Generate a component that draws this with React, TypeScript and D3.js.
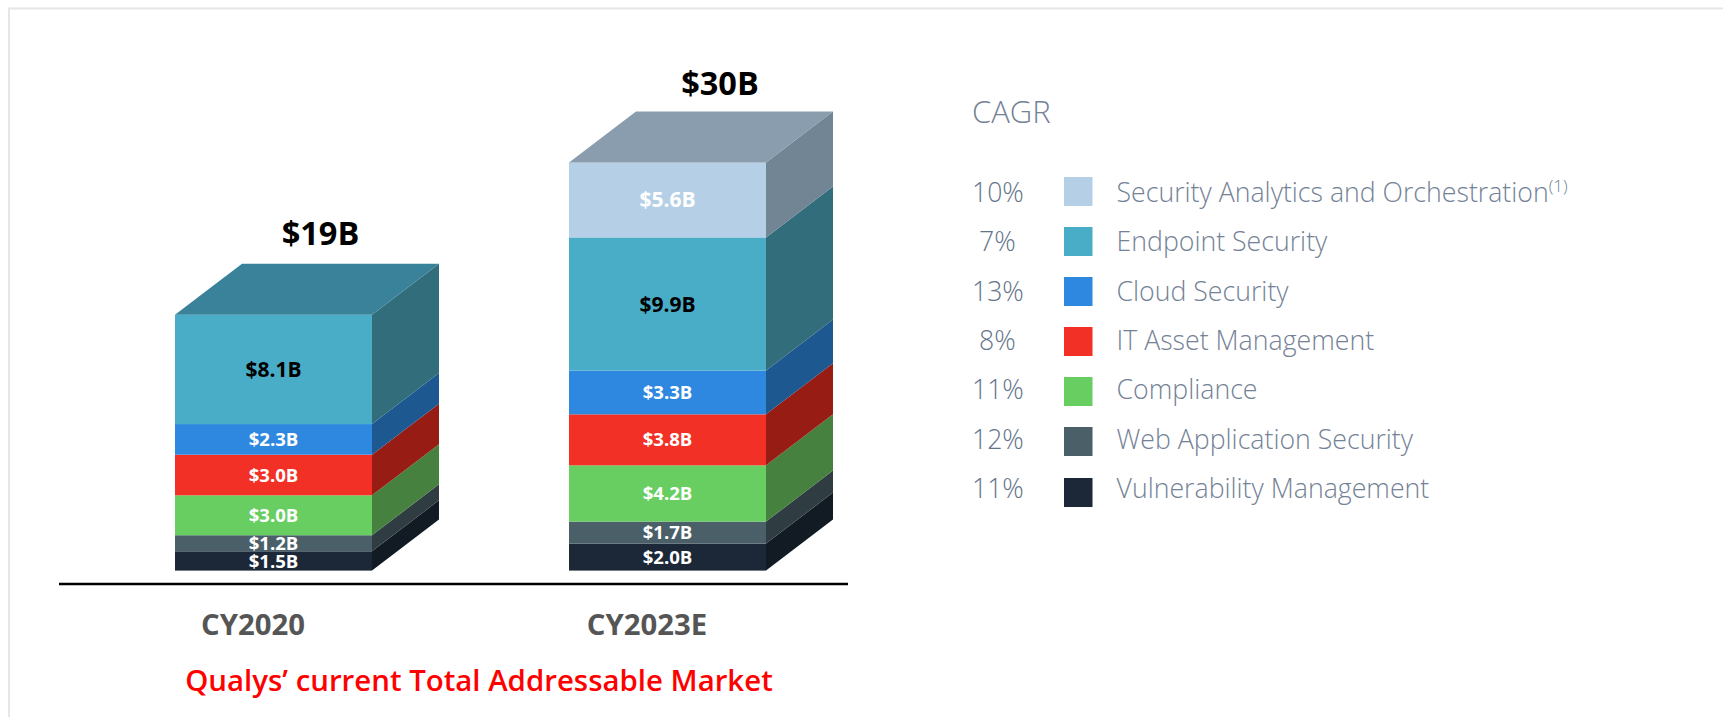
import React from "react";
import * as d3 from "d3";

const years = ["CY2020", "CY2023E"];
const keys = ["Vulnerability Management", "Web Application Security", "Compliance", "IT Asset Management", "Cloud Security", "Endpoint Security", "Security Analytics and Orchestration"];
const cagr = ["11%", "12%", "11%", "8%", "13%", "7%", "10%"];
const frontColors = ["#1c2838", "#4a5f68", "#68ce62", "#f23026", "#2f88e0", "#4aadc8", "#b5d0e6"];
const sideColors = ["#121a23", "#2f3d42", "#46813f", "#961c14", "#1d5890", "#326d7c", "#728594"];
const labelColors = ["#fff", "#fff", "#fff", "#fff", "#fff", "#000", "#fff"];
const topColors = ["#3a8299", "#8a9dae"];
const totals = ["$19B", "$30B"];
const values2020 = [1.43, 1.19, 2.96, 3.01, 2.27, 8.1, 0];
const values2023 = [2.0, 1.63, 4.17, 3.78, 3.24, 9.87, 5.56];
const labels2020 = ["$1.5B", "$1.2B", "$3.0B", "$3.0B", "$2.3B", "$8.1B", ""];
const labels2023 = ["$2.0B", "$1.7B", "$4.2B", "$3.8B", "$3.3B", "$9.9B", "$5.6B"];

const FONT = "'Open Sans', sans-serif";
const W = 1723, H = 717;
const barW = 197, dx = 67, dy = 51;

export default function App() {
  const x = d3.scalePoint<string>().domain(years).range([175, 569]);
  const y = d3.scaleLinear().domain([0, 30.25]).range([570.6, 162.4]);
  const rows = years.map((yr, i) => {
    const src = i === 0 ? values2020 : values2023;
    const o: Record<string, any> = { year: yr };
    keys.forEach((k, j) => (o[k] = src[j]));
    return o;
  });
  const stacked = d3.stack<any>().keys(keys)(rows);
  const line = d3.line();

  return (
    <svg width={W} height={H} viewBox={`0 0 ${W} ${H}`} style={{ position: "absolute", left: 0, top: 0, background: "#fff" }} fontFamily={FONT}>
      <path d={`M9 ${H}V8.5H${W}`} fill="none" stroke="#e6e6e6" strokeWidth={2} />

      {years.map((yr, i) => {
        const x0 = x(yr)!;
        const segs = stacked.map((s, j) => ({ j, y0: y(s[i][0]), y1: y(s[i][1]) })).filter((s) => s.y0 !== s.y1);
        const topY = segs[segs.length - 1].y1;
        const labels = i === 0 ? labels2020 : labels2023;
        return (
          <g key={yr}>
            {segs.map((s) => (
              <g key={s.j}>
                <path d={line([[x0 + barW, s.y0], [x0 + barW + dx, s.y0 - dy], [x0 + barW + dx, s.y1 - dy], [x0 + barW, s.y1]])! + "Z"} fill={sideColors[s.j]} />
                <rect x={x0} y={s.y1} width={barW} height={s.y0 - s.y1} fill={frontColors[s.j]} />
              </g>
            ))}
            <path d={line([[x0, topY], [x0 + dx, topY - dy], [x0 + barW + dx, topY - dy], [x0 + barW, topY]])! + "Z"} fill={topColors[i]} />
            {segs.map((s) => {
              const big = s.j >= 5;
              return (
                <text key={s.j} x={x0 + barW / 2} y={(s.y0 + s.y1) / 2 + (big ? 7.5 : 6.6)} textAnchor="middle" fontSize={big ? 21 : 18.6} fontWeight={700} fill={labelColors[s.j]}>
                  {labels[s.j]}
                </text>
              );
            })}
            <text x={x0 + (i === 0 ? 145.5 : 151)} y={topY - (i === 0 ? 70 : 67)} textAnchor="middle" fontSize={32.5} fontWeight={700} fill="#000">
              {totals[i]}
            </text>
            <text x={x0 + 78} y={635} textAnchor="middle" fontSize={29.3} fontWeight={700} fill="#555">
              {yr}
            </text>
          </g>
        );
      })}

      <line x1={59} x2={848} y1={584} y2={584} stroke="#000" strokeWidth={2.5} />
      <text x={479} y={691} textAnchor="middle" fontSize={29.4} fontWeight={600} fill="#f00">
        Qualys’ current Total Addressable Market
      </text>

      <text x={972} y={122.5} fontSize={31} fontWeight={300} fill="#748296">CAGR</text>
      {keys.map((k, j) => {
        const r = keys.length - 1 - j;
        const top = 177 + r * 50 + (r === 6 ? 1 : 0);
        const base = 201.7 + r * 49.4;
        const narrow = cagr[j].length === 2;
        return (
          <g key={k}>
            <text x={narrow ? 979 : 972} y={base} fontSize={26.6} fontWeight={300} fill="#64748a">{cagr[j]}</text>
            <rect x={1064} y={top} width={28.5} height={29} fill={frontColors[j]} />
            <text x={1116.5} y={base} fontSize={26.7} fontWeight={300} fill="#748296">
              {k}
              {r === 0 && <tspan fontSize={17} dy={-10}>(1)</tspan>}
            </text>
          </g>
        );
      })}
    </svg>
  );
}
